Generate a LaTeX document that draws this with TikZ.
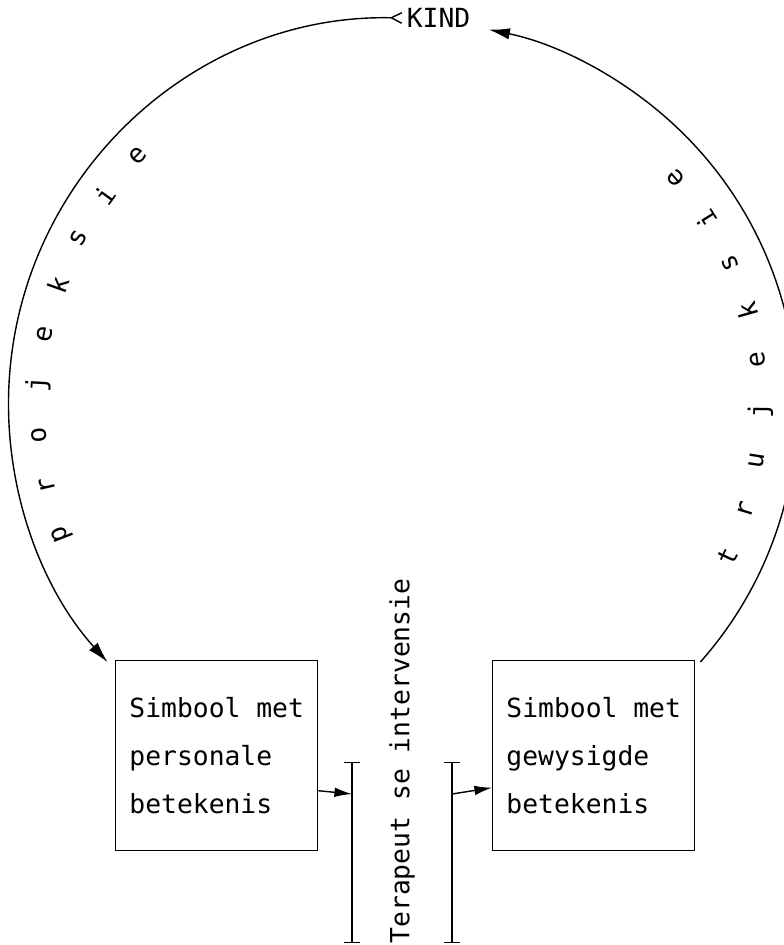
\documentclass[tikz,border=0pt]{standalone}
\usepackage{fontspec}
\newfontfamily\plotter{DejaVu Sans Mono}
\usetikzlibrary{arrows.meta}

\begin{document}
\begin{tikzpicture}[
  font=\plotter\fontsize{15}{27.5}\selectfont,
  line width=0.8pt,
  simbox/.style={draw, minimum width=4.04cm, minimum height=3.8cm, align=left, inner sep=0pt},
  bigarrow/.style={-{Latex[length=12pt,width=6.5pt]}},
  smallarrow/.style={-{Latex[length=10pt,width=5.5pt]}},
  bracket/.style={{Bar[width=9pt]}-{Bar[width=9pt]}}
]
\useasboundingbox (0,0) rectangle (15.68,-18.9);

\node[inner sep=2pt] (kind) at (8.77,-0.36) {KIND};
\node[simbox, anchor=north west] (simL) at (2.3,-13.2) {Simbool met\\personale\\betekenis};
\node[simbox, anchor=north west] (simR) at (9.84,-13.2) {Simbool met\\gewysigde\\betekenis};
\node[rotate=90] (ter) at (8.04,-15.22) {Terapeut se intervensie};

% centres of the two arcs, for the lettering
\coordinate (cL) at (7.91,-8.08);
\coordinate (cR) at (8.17,-8.14);

\draw[{Straight Barb[reversed,length=6pt,width=6pt]}-{Latex[length=12pt,width=6.5pt]}] (kind.west) arc[start angle=88.8, end angle=222, radius=7.72];
\draw[bigarrow] ([shift={(0.1,-0.04)}]simR.north east) arc[start angle=-41.5, end angle=78.5, radius=7.7];

% projeksie
\foreach \l/\a [count=\i] in {p/201.2, r/193.1, o/185, j/176.9, e/168.7, k/160.6, s/152.4, i/144.3, e/136.1}
  \path (cL) ++(\a:7.16) node[rotate=\a-90] (proj\i) {\l};

% trujeksie
\foreach \l/\a [count=\i] in {t/-25.1, r/-16.9, u/-8.7, j/-0.5, e/7.7, k/15.9, s/24.1, i/32.3, e/40.5}
  \path (cR) ++(\a:7.04) node[rotate=\a+90] (truj\i) {\l};

% the two brackets
\coordinate (barLtop) at (7.04,-15.24);
\coordinate (barLbot) at (7.04,-18.86);
\coordinate (barRtop) at (9.04,-15.24);
\coordinate (barRbot) at (9.04,-18.86);
\coordinate (hitL) at (7.04,-15.88);
\coordinate (hitR) at (9.04,-15.88);
\draw[bracket] (barLtop) -- (barLbot);
\draw[bracket] (barRtop) -- (barRbot);
\draw[smallarrow] ([yshift=-0.7cm]simL.east) -- (hitL);
\draw[smallarrow] (hitR) -- ([yshift=-0.64cm]simR.west);

\end{tikzpicture}
\end{document}
